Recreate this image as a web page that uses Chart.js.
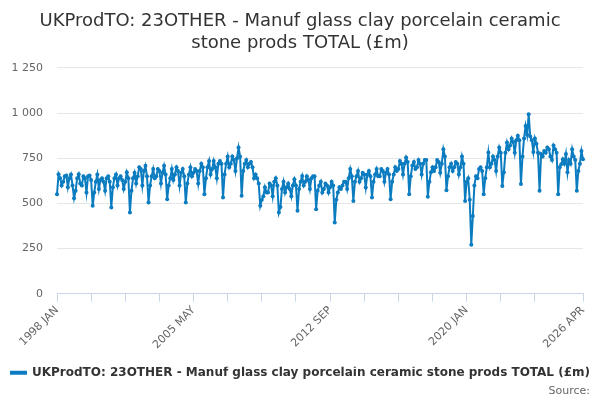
<!DOCTYPE html>
<html>
<head>
<meta charset="utf-8">
<script src="https://cdn.jsdelivr.net/npm/chart.js@4/dist/chart.umd.min.js"></script>
<style>
  html, body { margin: 0; padding: 0; background: #fff; }
  #wrap { width: 600px; height: 400px; }
</style>
</head>
<body>
<div id="wrap"><canvas id="canvas"></canvas></div>
<script>
// monthly turnover, £m, 1998 JAN .. 2026 APR
const v1998 = [551, 662, 640, 600, 620, 650, 655, 590, 640, 660, 600, 529];
const v1999 = [570, 640, 662, 610, 600, 650, 640, 560, 650, 655, 630, 487];
const v2000 = [560, 620, 660, 580, 630, 640, 620, 570, 640, 650, 620, 478];
const v2001 = [590, 640, 660, 600, 640, 650, 630, 580, 620, 672, 640, 450];
const v2002 = [570, 640, 670, 610, 650, 700, 690, 600, 680, 708, 650, 505];
const v2003 = [600, 650, 690, 640, 650, 690, 680, 610, 670, 708, 660, 523];
const v2004 = [600, 640, 690, 630, 660, 700, 680, 600, 670, 690, 650, 505];
const v2005 = [610, 660, 700, 650, 670, 690, 680, 610, 680, 720, 700, 551];
const v2006 = [640, 700, 735, 660, 690, 735, 700, 640, 720, 735, 720, 533];
const v2007 = [660, 720, 760, 700, 720, 760, 740, 680, 750, 810, 760, 542];
const v2008 = [680, 720, 740, 700, 720, 730, 700, 640, 660, 640, 610, 487];
const v2009 = [520, 540, 590, 560, 560, 610, 600, 540, 620, 640, 600, 450];
const v2010 = [480, 580, 620, 560, 590, 610, 580, 540, 600, 634, 600, 459];
const v2011 = [580, 620, 652, 600, 620, 650, 630, 580, 640, 650, 650, 468];
const v2012 = [570, 600, 620, 560, 580, 610, 600, 560, 590, 620, 600, 394];
const v2013 = [520, 560, 590, 580, 600, 620, 620, 580, 640, 690, 650, 514];
const v2014 = [620, 650, 680, 620, 640, 670, 660, 588, 660, 680, 650, 533];
const v2015 = [620, 660, 690, 650, 650, 690, 680, 620, 670, 690, 660, 523];
const v2016 = [620, 660, 700, 680, 690, 735, 720, 660, 720, 754, 730, 551];
const v2017 = [650, 710, 730, 690, 700, 740, 720, 660, 720, 740, 740, 537];
const v2018 = [620, 672, 700, 680, 700, 740, 730, 670, 720, 800, 760, 573];
const v2019 = [650, 700, 720, 680, 700, 730, 720, 660, 700, 760, 720, 514];
const v2020 = [620, 640, 520, 271, 431, 600, 650, 640, 690, 700, 680, 551];
const v2021 = [640, 700, 782, 700, 720, 760, 740, 680, 760, 810, 780, 597];
const v2022 = [672, 780, 837, 800, 820, 860, 840, 780, 850, 874, 850, 607];
const v2023 = [760, 860, 929, 880, 994, 870, 850, 785, 860, 830, 780, 570];
const v2024 = [773, 760, 790, 780, 810, 800, 760, 740, 820, 800, 780, 551];
const v2025 = [700, 717, 745, 720, 773, 672, 740, 720, 800, 760, 740, 570];
const v2026 = [680, 720, 790, 745];

const years = [1998, 1999, 2000, 2001, 2002, 2003, 2004, 2005, 2006, 2007, 2008, 2009, 2010, 2011,
  2012, 2013, 2014, 2015, 2016, 2017, 2018, 2019, 2020, 2021, 2022, 2023, 2024, 2025, 2026];
const monthNames = ["JAN", "FEB", "MAR", "APR", "MAY", "JUN", "JUL", "AUG", "SEP", "OCT", "NOV", "DEC"];
const yearValues = [v1998, v1999, v2000, v2001, v2002, v2003, v2004, v2005, v2006, v2007, v2008, v2009,
  v2010, v2011, v2012, v2013, v2014, v2015, v2016, v2017, v2018, v2019, v2020, v2021, v2022, v2023,
  v2024, v2025, v2026];

const shownLabels = ["1998 JAN", "2005 MAY", "2012 SEP", "2020 JAN", "2026 APR"];
const yTicks = [0, 250, 500, 750, 1000, 1250];

const seriesName = "UKProdTO: 23OTHER - Manuf glass clay porcelain ceramic stone prods TOTAL (£m)";
const lineColor = "#0c7cc0";

const months = [];
const values = [];
yearValues.forEach((vals, i) => {
  vals.forEach((v, m) => {
    months.push(years[i] + " " + monthNames[m]);
    values.push(v);
  });
});

const fontFam = "'DejaVu Sans', Verdana, sans-serif";
const lastIdx = months.length - 1;

new Chart(document.getElementById("canvas"), {
  type: "line",
  data: {
    labels: months,
    datasets: [{
      label: seriesName,
      data: values,
      borderColor: lineColor,
      backgroundColor: lineColor,
      borderWidth: 2,
      pointRadius: 2,
      pointHoverRadius: 3,
      pointBorderWidth: 0,
      pointBackgroundColor: lineColor,
      tension: 0
    }]
  },
  options: {
    responsive: true,
    maintainAspectRatio: false,
    animation: false,
    layout: { padding: { left: 10, right: 10, top: 0, bottom: 2 } },
    plugins: {
      title: {
        display: true,
        text: ["UKProdTO: 23OTHER - Manuf glass clay porcelain ceramic", "stone prods TOTAL (£m)"],
        color: "#333333",
        font: { family: fontFam, size: 18, weight: "normal", lineHeight: 1.22 },
        padding: { top: 10, bottom: 14 }
      },
      subtitle: {
        display: true,
        position: "bottom",
        align: "end",
        text: "Source:",
        color: "#666666",
        font: { family: fontFam, size: 11 },
        padding: { top: -4, bottom: 0 }
      },
      legend: {
        position: "bottom",
        labels: {
          boxWidth: 16,
          boxHeight: 2,
          color: "#333333",
          font: { family: fontFam, size: 12, weight: "bold" },
          padding: 0
        }
      },
      tooltip: { enabled: false }
    },
    scales: {
      x: {
        type: "category",
        offset: false,
        afterBuildTicks: (axis) => {
          axis.ticks = axis.ticks.filter(t => (t.value % 22 === 0 && t.value <= 308) || t.value === lastIdx);
        },
        afterFit: (axis) => { axis.height = 73; },
        grid: {
          display: true,
          drawOnChartArea: false,
          drawTicks: true,
          tickLength: 8,
          color: "#ccd6eb",
          lineWidth: 1
        },
        border: { display: true, color: "#ccd6eb" },
        ticks: {
          autoSkip: false,
          maxRotation: 45,
          minRotation: 45,
          color: "#666666",
          font: { family: fontFam, size: 11 },
          padding: 2,
          callback: function (value) {
            const lab = this.getLabelForValue(value);
            return shownLabels.includes(lab) ? lab : "";
          }
        }
      },
      y: {
        min: 0,
        max: 1250,
        afterFit: (axis) => { axis.width = 47; },
        afterBuildTicks: (axis) => { axis.ticks = yTicks.map(v => ({ value: v })); },
        grid: { color: "#e6e6e6", drawTicks: false, lineWidth: 1 },
        border: { display: false },
        ticks: {
          color: "#666666",
          font: { family: fontFam, size: 11 },
          padding: 14,
          callback: (v) => v >= 1000 ? String(v).replace(/(\d)(\d{3})$/, "$1 $2") : String(v)
        }
      },
      // empty right-hand strip so the plot ends where the reference's does
      yRight: {
        position: "right",
        display: true,
        min: 0,
        max: 1250,
        afterFit: (axis) => { axis.width = 7; },
        grid: { display: false, drawTicks: false },
        border: { display: false },
        ticks: { display: false }
      }
    }
  }
});
</script>
</body>
</html>
